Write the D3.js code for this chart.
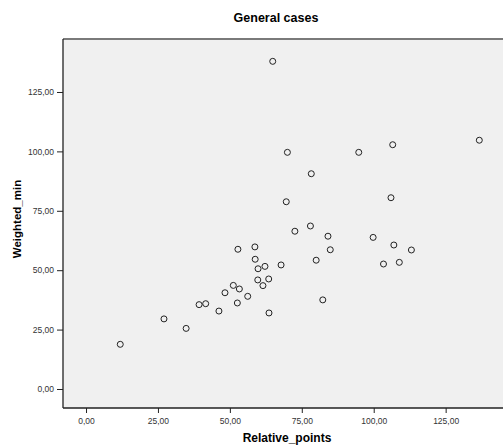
<!DOCTYPE html>
<html>
<head>
<meta charset="utf-8">
<script src="https://cdn.jsdelivr.net/npm/d3@7"></script>
<style>
  body { margin: 0; background: #fff; }
  text { font-family: "Liberation Sans", Arial, sans-serif; }
</style>
</head>
<body>
<div id="chart"></div>
<script>
// values
const relativePoints = [64.9, 70.0, 94.8, 106.6, 136.7, 78.3, 69.6, 106.0, 78.0, 72.6,
  84.1, 99.8, 107.0, 113.1, 84.9, 80.0, 103.4, 108.9, 67.8, 62.2,
  63.5, 61.5, 82.3, 63.6, 52.8, 58.7, 58.8, 59.8, 59.7, 51.2,
  53.3, 48.3, 56.2, 52.6, 41.6, 39.3, 46.2, 27.1, 34.8, 11.9];
const weightedMin = [137.9, 99.6, 99.6, 102.8, 104.7, 90.6, 78.8, 80.5, 68.6, 66.4,
  64.3, 63.8, 60.6, 58.5, 58.6, 54.2, 52.6, 53.3, 52.2, 51.6,
  46.3, 43.5, 37.5, 32.0, 58.8, 59.8, 54.6, 50.6, 45.9, 43.6,
  42.1, 40.5, 39.0, 36.2, 35.9, 35.5, 32.8, 29.5, 25.5, 18.8];
const xTicks = [0, 25, 50, 75, 100, 125];
const yTicks = [0, 25, 50, 75, 100, 125];

const fmt = d => d3.format(".2f")(d).replace(".", ",");

let W = 503, H = 448;
let margin = { top: 39, left: 63, bottom: 40 };

let x = d3.scaleLinear().domain([-8, 150]).range([margin.left, margin.left + 158 * 2.877]);
let y = d3.scaleLinear().domain([-8, 147.3]).range([H - margin.bottom, margin.top]);

const svg = d3.select("#chart").append("svg")
  .attr("width", W)
  .attr("height", H);

// plot background
svg.append("rect")
  .attr("x", x(-8))
  .attr("y", y(147.3))
  .attr("width", x(150) - x(-8))
  .attr("height", y(-8) - y(147.3))
  .attr("fill", "#f0f0f0");

const xAxis = svg.append("g")
  .attr("transform", "translate(0," + y(-8) + ")")
  .call(d3.axisBottom(x).tickValues(xTicks).tickFormat(fmt).tickSizeOuter(0).tickSize(5).tickPadding(5));

const yAxis = svg.append("g")
  .attr("transform", "translate(" + x(-8) + ",0)")
  .call(d3.axisLeft(y).tickValues(yTicks).tickFormat(fmt).tickSizeOuter(0).tickSize(6).tickPadding(3));

[xAxis, yAxis].forEach(g => {
  g.select(".domain").remove();
  g.selectAll(".tick line").attr("stroke", "#222");
  g.selectAll(".tick text")
    .attr("fill", "#333")
    .style("font-size", "8.5px")
    .style("font-family", "'Liberation Sans', Arial, sans-serif");
});

// frame: grey top, dark left and bottom
svg.append("line")
  .attr("x1", x(-8)).attr("x2", W)
  .attr("y1", y(147.3)).attr("y2", y(147.3))
  .attr("stroke", "#7a7a7a").attr("stroke-width", 2);
svg.append("line")
  .attr("x1", x(-8)).attr("x2", x(-8))
  .attr("y1", y(147.3)).attr("y2", y(-8))
  .attr("stroke", "#222").attr("stroke-width", 1.3);
svg.append("line")
  .attr("x1", x(-8)).attr("x2", W)
  .attr("y1", y(-8)).attr("y2", y(-8))
  .attr("stroke", "#222").attr("stroke-width", 1.3);

// points
svg.append("g")
  .selectAll("circle")
  .data(relativePoints.map((d, i) => ({ x: d, y: weightedMin[i] })))
  .join("circle")
  .attr("cx", d => x(d.x))
  .attr("cy", d => y(d.y))
  .attr("r", 3)
  .attr("fill", "none")
  .attr("stroke", "#222")
  .attr("stroke-width", 1);

// titles
svg.append("text")
  .attr("x", 276)
  .attr("y", 22)
  .attr("text-anchor", "middle")
  .style("font-size", "12.5px")
  .style("font-weight", "bold")
  .text("General cases");

svg.append("text")
  .attr("x", 287)
  .attr("y", 442)
  .attr("text-anchor", "middle")
  .style("font-size", "12px")
  .style("font-weight", "bold")
  .text("Relative_points");

svg.append("text")
  .attr("transform", "translate(21," + 219 + ") rotate(-90)")
  .attr("text-anchor", "middle")
  .style("font-size", "11.5px")
  .style("font-weight", "bold")
  .text("Weighted_min");
</script>
</body>
</html>
